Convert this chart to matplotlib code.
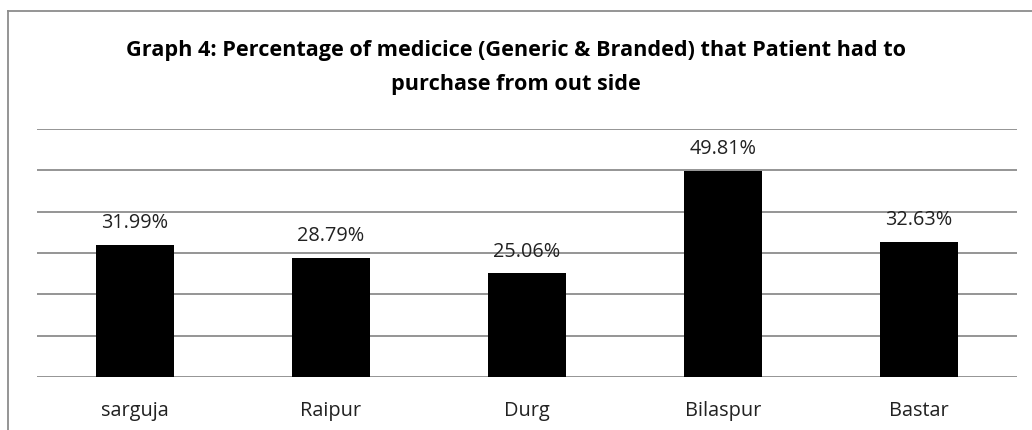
import matplotlib.pyplot as plt
from matplotlib.lines import Line2D

districts = ['sarguja', 'Raipur', 'Durg', 'Bilaspur', 'Bastar']
percent = [31.99, 28.79, 25.06, 49.81, 32.63]
title = 'Graph 4: Percentage of medicice (Generic & Branded) that Patient had to\npurchase from out side'

plt.rcParams['font.family'] = ['Open Sans', 'DejaVu Sans']

fig = plt.figure(figsize=(10.32, 4.30), dpi=100)
ax = fig.add_axes([37 / 1032, 1 - 377 / 430, 980 / 1032, 248 / 430])

x = range(len(districts))
ax.bar(x, percent, width=0.4, color='black', zorder=3)
for i, v in zip(x, percent):
    ax.annotate(f'{v:.2f}%', (i, v), xytext=(0, 12), textcoords='offset points',
                ha='center', va='baseline', fontsize=14.3, color='#222222')

ax.set_xlim(-0.5, len(districts) - 0.5)
ax.set_ylim(0, 60)
ax.set_yticks(range(0, 61, 10))
ax.yaxis.grid(True, color='#8c8c8c', linewidth=1.3)
ax.set_axisbelow(True)
ax.tick_params(left=False, labelleft=False, bottom=False)
ax.set_xticks(list(x))
ax.set_xticklabels(districts, fontsize=14.3, color='#222222')
ax.tick_params(axis='x', pad=14)
for s in ax.spines.values():
    s.set_visible(False)

fig.text(0.5, 1 - 67.5 / 430, title, ha='center', va='center', fontsize=15.6,
         fontweight='bold', linespacing=1.78)

# outer chart border (left and top edges visible)
fig.add_artist(Line2D([7.5 / 1032, 7.5 / 1032], [0, 1 - 10.5 / 430], transform=fig.transFigure,
                      color='#8c8c8c', linewidth=1.3))
fig.add_artist(Line2D([7.5 / 1032, 1], [1 - 10.5 / 430, 1 - 10.5 / 430], transform=fig.transFigure,
                      color='#8c8c8c', linewidth=1.3))

fig.savefig('out.png', dpi=100)
